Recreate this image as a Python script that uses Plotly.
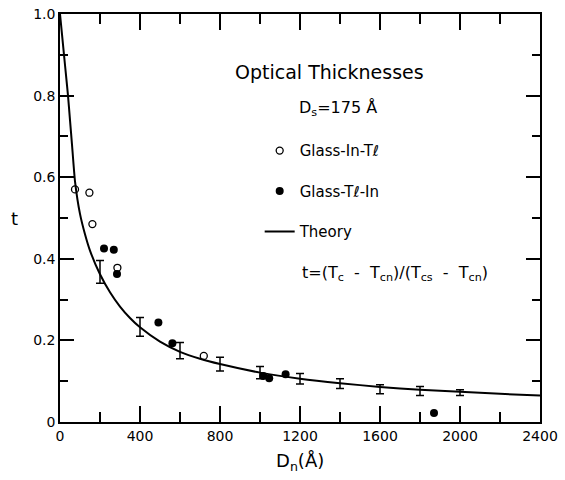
import plotly.graph_objects as go

# Data
open_x = [75, 147, 162, 287, 719]
open_t = [0.570, 0.562, 0.485, 0.378, 0.162]

filled_x = [220, 269, 285, 492, 562, 1016, 1046, 1128, 1870]
filled_t = [0.425, 0.422, 0.363, 0.244, 0.193, 0.113, 0.107, 0.117, 0.022]

theory_x = [0, 10, 20, 30, 40, 50, 60, 75, 100, 125, 150, 200, 250, 300, 350, 400, 500,
            600, 700, 800, 1000, 1200, 1400, 1600, 1800, 2000, 2200, 2400]
theory_t = [1.0, 0.95, 0.90, 0.85, 0.80, 0.74, 0.68, 0.59, 0.51, 0.46, 0.42, 0.362,
            0.318, 0.283, 0.255, 0.232, 0.197, 0.172, 0.155, 0.142, 0.121, 0.106, 0.095,
            0.086, 0.079, 0.074, 0.069, 0.065]

err_x = [200, 400, 600, 800, 1000, 1200, 1400, 1600, 1800, 2000]
err_t = [0.368, 0.233, 0.175, 0.142, 0.121, 0.106, 0.094, 0.080, 0.076, 0.072]
err_d = [0.028, 0.023, 0.020, 0.017, 0.015, 0.013, 0.012, 0.011, 0.011, 0.007]

x_ticks = [0, 400, 800, 1200, 1600, 2000, 2400]
x_labels = ["0", "400", "800", "1200", "1600", "2000", "2400"]
y_ticks = [0, 0.2, 0.4, 0.6, 0.8, 1.0]
y_labels = ["0", "0.2", "0.4", "0.6", "0.8", "1.0"]

FONT = "DejaVu Sans"
NB = "\u00a0"

fig = go.Figure()

fig.add_trace(go.Scatter(
    x=err_x, y=err_t, mode="markers",
    marker=dict(size=1, color="rgba(0,0,0,0)"),
    error_y=dict(type="data", array=err_d, visible=True, color="black",
                 thickness=1.5, width=4),
    showlegend=False, hoverinfo="skip"))

fig.add_trace(go.Scatter(
    x=open_x, y=open_t, mode="markers", name="Glass-In-Tℓ",
    legendgroup="a",
    marker=dict(symbol="circle-open", size=7, color="black", line=dict(width=1.3))))

fig.add_trace(go.Scatter(
    x=filled_x, y=filled_t, mode="markers", name="Glass-Tℓ-In",
    legendgroup="b",
    marker=dict(symbol="circle", size=8, color="black")))

fig.add_trace(go.Scatter(
    x=theory_x, y=theory_t, mode="lines", name="Theory",
    legendgroup="c",
    line=dict(color="black", width=2, shape="spline", smoothing=0.5)))

fig.update_xaxes(
    range=[0, 2400], tickmode="array", tickvals=x_ticks, ticktext=x_labels,
    showline=True, linecolor="black", linewidth=1.5, mirror="ticks",
    ticks="inside", ticklen=16, tickwidth=1.5, tickcolor="black",
    showgrid=False, zeroline=False, automargin=False,
    tickfont=dict(family=FONT, size=14, color="black"),
    minor=dict(dtick=200, ticks="inside", ticklen=10, tickwidth=1.5,
               tickcolor="black", showgrid=False),
)
fig.update_yaxes(
    range=[0, 1.0], tickmode="array", tickvals=y_ticks, ticktext=y_labels,
    showline=True, linecolor="black", linewidth=1.5, mirror="ticks",
    ticks="inside", ticklen=14, tickwidth=1.5, tickcolor="black",
    showgrid=False, zeroline=False, automargin=False,
    tickfont=dict(family=FONT, size=14, color="black"),
    minor=dict(dtick=0.1, ticks="inside", ticklen=8, tickwidth=1.5,
               tickcolor="black", showgrid=False),
)

annotations = [
    dict(x=865, y=0.857, xref="x", yref="y", text="Optical Thicknesses",
         showarrow=False, xanchor="left", yanchor="middle",
         font=dict(family=FONT, size=19, color="black")),
    dict(x=1185, y=0.769, xref="x", yref="y", text="D<sub>s</sub>=175 Å",
         showarrow=False, xanchor="left", yanchor="middle",
         font=dict(family=FONT, size=16, color="black")),
    dict(x=1200, y=0.365, xref="x", yref="y",
         text=("t=(T<sub>c</sub>" + NB * 2 + "-" + NB * 2 + "T<sub>cn</sub>)/(T<sub>cs</sub>"
               + NB * 2 + "-" + NB * 2 + "T<sub>cn</sub>)"),
         showarrow=False, xanchor="left", yanchor="middle",
         font=dict(family=FONT, size=16, color="black")),
    dict(x=-0.094, y=0.5, xref="paper", yref="paper", text="t",
         showarrow=False, xanchor="center", yanchor="middle",
         font=dict(family=FONT, size=18, color="black")),
    dict(x=0.5, y=-0.097, xref="paper", yref="paper", text="D<sub>n</sub>(Å)",
         showarrow=False, xanchor="center", yanchor="middle",
         font=dict(family=FONT, size=18, color="black")),
]

fig.update_layout(
    template="none",
    width=565, height=480,
    margin=dict(l=60, r=25, t=14, b=58),
    paper_bgcolor="white", plot_bgcolor="white",
    annotations=annotations,
    legend=dict(x=0.416, y=0.705, xanchor="left", yanchor="top",
                bgcolor="rgba(0,0,0,0)", tracegroupgap=18,
                font=dict(family=FONT, size=15, color="black")),
    font=dict(family=FONT, color="black"),
)

fig.write_html("out.html")
